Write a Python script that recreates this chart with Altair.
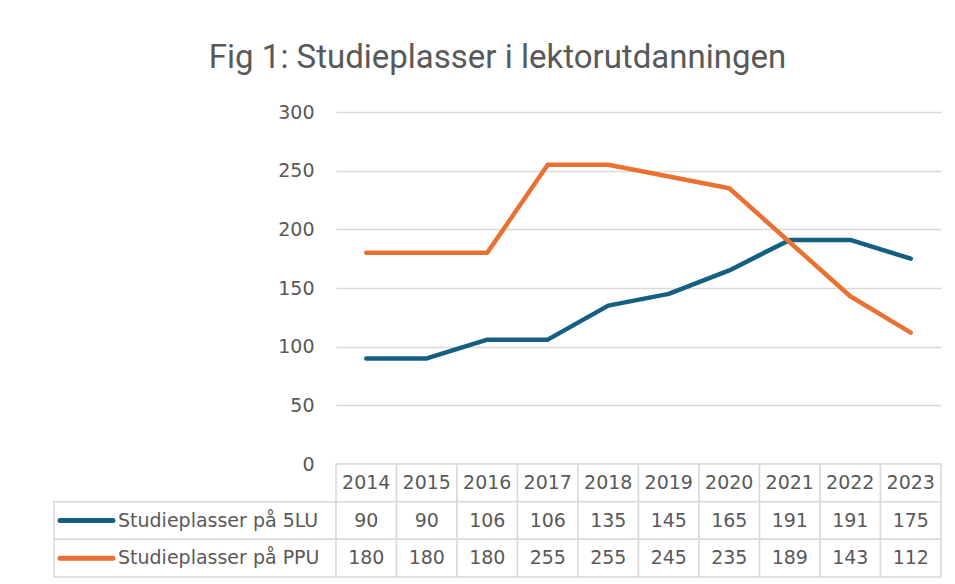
import altair as alt
import pandas as pd

years = ["2014", "2015", "2016", "2017", "2018", "2019", "2020", "2021", "2022", "2023"]
series = ["Studieplasser på 5LU", "Studieplasser på PPU"]
lu_values = [90, 90, 106, 106, 135, 145, 165, 191, 191, 175]
ppu_values = [180, 180, 180, 255, 255, 245, 235, 189, 143, 112]
y_ticks = [0, 50, 100, 150, 200, 250, 300]
colors = ["#156082", "#E97132"]
title_text = "Fig 1: Studieplasser i lektorutdanningen"

rows = ["header"] + series

long_rows = []
for s, vals in zip(series, [lu_values, ppu_values]):
    for y, v in zip(years, vals):
        long_rows.append({"year": y, "series": s, "value": v})
df_long = pd.DataFrame(long_rows)

cell_rows = [{"year": y, "row": "header", "label": y} for y in years]
for s, vals in zip(series, [lu_values, ppu_values]):
    for y, v in zip(years, vals):
        cell_rows.append({"year": y, "row": s, "label": str(v)})
df_cells = pd.DataFrame(cell_rows)
df_series = pd.DataFrame({"row": series, "series": series})

TXT = "#595959"
GRID = "#d9d9d9"
FONT = "DejaVu Sans"
FS = 19

color_scale = alt.Scale(domain=series, range=colors)

top = alt.Chart(df_long).mark_line(strokeWidth=4.5, strokeCap="round", strokeJoin="round").encode(
    x=alt.X("year:O", scale=alt.Scale(type="point", padding=0.5, domain=years), axis=None),
    y=alt.Y("value:Q", scale=alt.Scale(domain=[0, 300]),
            axis=alt.Axis(values=y_ticks, grid=True, gridColor=GRID, gridWidth=1.5, domain=False,
                          ticks=False, labelFontSize=FS, labelColor=TXT, labelPadding=22,
                          labelFont=FONT, title=None)),
    color=alt.Color("series:N", scale=color_scale, legend=None),
).properties(width=605, height=352)

xband = alt.X("year:O", scale=alt.Scale(type="band", paddingInner=0, paddingOuter=0, domain=years), axis=None)
yband = alt.Y("row:O", scale=alt.Scale(domain=rows, paddingInner=0, paddingOuter=0), axis=None)

cells = alt.Chart(df_cells).mark_rect(fill="white", stroke=GRID, strokeWidth=1.5).encode(x=xband, y=yband)
cell_text = alt.Chart(df_cells).mark_text(fontSize=FS, color=TXT, font=FONT).encode(x=xband, y=yband, text="label:N")
label_cells = alt.Chart(df_series).mark_rect(fill="white", stroke=GRID, strokeWidth=1.5).encode(
    x=alt.value(-282), x2=alt.value(0), y=yband)
swatch = alt.Chart(df_series).mark_rule(strokeWidth=5, strokeCap="round").encode(
    x=alt.value(-276), x2=alt.value(-223), y=yband,
    color=alt.Color("series:N", scale=color_scale, legend=None))
label_text = alt.Chart(df_series).mark_text(fontSize=FS, color=TXT, font=FONT, align="left").encode(
    x=alt.value(-218), y=yband, text="series:N")

bottom = alt.layer(label_cells, cells, cell_text, swatch, label_text).properties(width=605, height=113)

chart = alt.vconcat(top, bottom, spacing=0, bounds="flush").properties(
    title=alt.TitleParams(title_text, fontSize=33, font="Roboto",
                          fontWeight="normal", color=TXT, anchor="middle", offset=28),
    padding={"left": 45, "top": 34, "right": 5, "bottom": 5},
).configure_view(stroke=None).configure_concat(spacing=0)

chart.save("out.html", embed_options={"renderer": "svg", "actions": False})
